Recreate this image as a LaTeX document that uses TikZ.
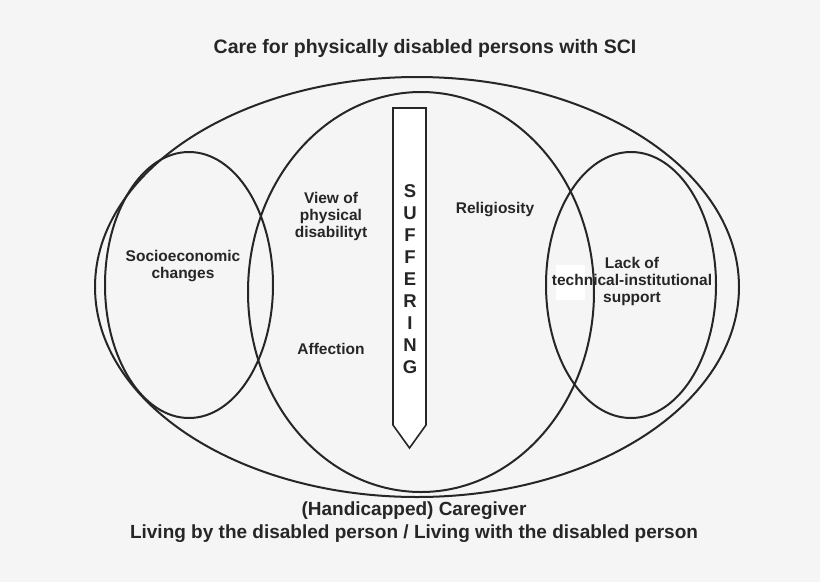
\documentclass[tikz,border=0pt]{standalone}
\usepackage{fontspec}
\setmainfont{Liberation Sans}
\begin{document}
\begin{tikzpicture}[x=1pt,y=-1pt,
  lbl/.style={font=\fontsize{15.5}{17}\selectfont\bfseries,align=center,text=black!85},
  ring/.style={draw=black!85,line width=2pt}]
\fill[black!4] (0,0) rectangle (820,582);
\useasboundingbox (0,0) rectangle (820,582);
\node[font=\fontsize{19.5}{22}\selectfont\bfseries,text=black!85] (title) at (425,48) {Care for physically disabled persons with SCI};
\draw[ring] (417,287) ellipse [x radius=322, y radius=210];
\draw[ring] (189,285) ellipse [x radius=84, y radius=133];
\draw[ring] (421,292) ellipse [x radius=173, y radius=200];
\draw[ring] (631,285) ellipse [x radius=85, y radius=133];
\fill[white] (556,265) rectangle (585,300);
\draw[ring,fill=white,line width=1.6pt] (393,108) -- (426,108) -- (426,425) -- (409.5,448) -- (393,425) -- cycle;
\node[font=\fontsize{18.5}{22}\selectfont\bfseries,align=center,text=black!85] (suf) at (410,279) {S\\U\\F\\F\\E\\R\\I\\N\\G};
\node[lbl] (view) at (331,216) {View of\\physical\\disabilityt};
\node[lbl] (rel) at (495,210) {Religiosity};
\node[lbl] (soc) at (183,266) {Socioeconomic\\changes};
\node[lbl] (lack) at (632,281) {Lack of\\technical-institutional\\support};
\node[lbl] (aff) at (331,349) {Affection};
\node[font=\fontsize{19}{22}\selectfont\bfseries,text=black!85] (care) at (414,511) {(Handicapped) Caregiver};
\node[font=\fontsize{19}{22}\selectfont\bfseries,text=black!85] (liv) at (414,534) {Living by the disabled person / Living with the disabled person};
\end{tikzpicture}
\end{document}
